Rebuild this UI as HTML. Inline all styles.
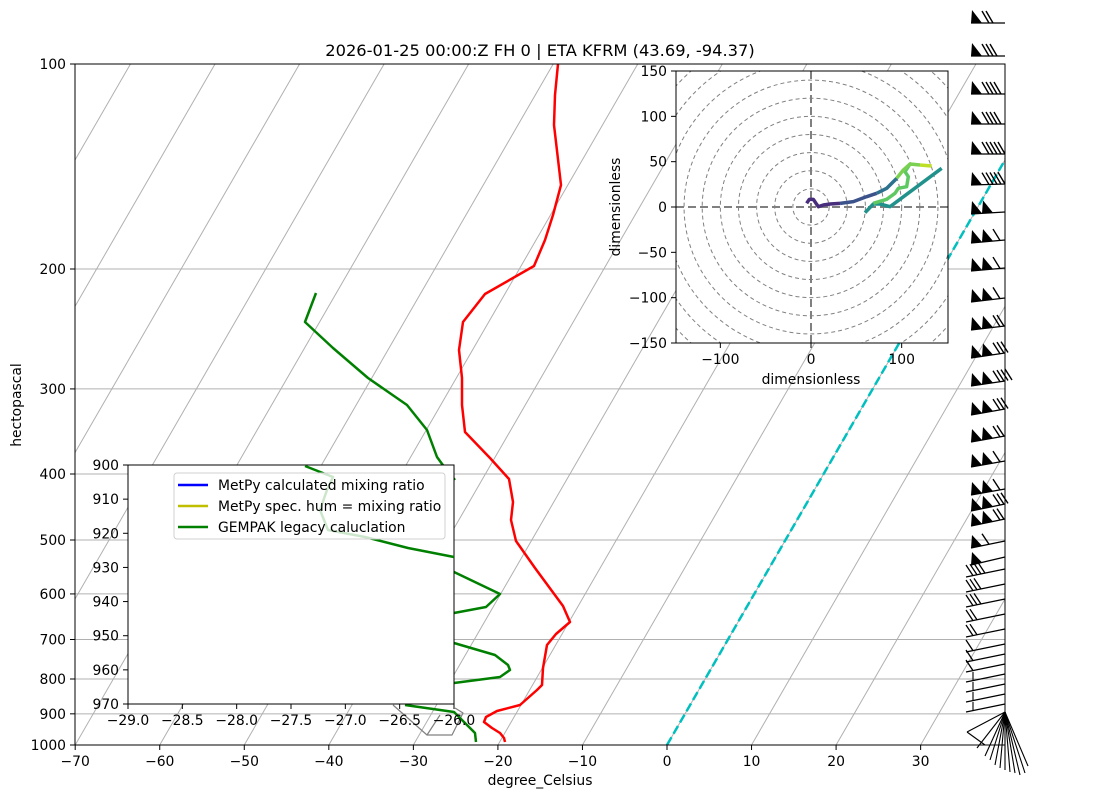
<!DOCTYPE html>
<html><head><meta charset="utf-8"><style>
body{margin:0;background:#fff}
svg{display:block;font-family:"DejaVu Sans","Liberation Sans",sans-serif}
</style></head><body>
<svg id="s" width="1107" height="809" viewBox="0 0 1107 809" xmlns="http://www.w3.org/2000/svg">
<defs>
<clipPath id="main"><rect x="75" y="64" width="930" height="681"/></clipPath>
<clipPath id="hodo"><rect x="676" y="71" width="272" height="272"/></clipPath>
</defs>
<g id="grid" clip-path="url(#main)"></g>
<g id="fg"></g>
</svg>
<script>
const NS="http://www.w3.org/2000/svg";
const s=document.getElementById('s'),grid=document.getElementById('grid'),fg=document.getElementById('fg');
function el(p,tag,a,txt){const e=document.createElementNS(NS,tag);for(const k in a)e.setAttribute(k,a[k]);if(txt!==undefined)e.textContent=txt;p.appendChild(e);return e;}
function X(t){return 667+8.4545*t;}
function Y(p){return 64+(Math.log10(p)-2)*681;}
const sk=0.5778;
for(let t=-160;t<=40;t+=10){el(grid,'line',{x1:X(t),y1:745,x2:X(t)+sk*681,y2:64,stroke:'#b0b0b0','stroke-width':1});}
[200,300,400,500,600,700,800,900].forEach(p=>el(grid,'line',{x1:75,x2:1005,y1:Y(p),y2:Y(p),stroke:'#b0b0b0','stroke-width':1}));
el(grid,'line',{x1:667,y1:745,x2:667+sk*681,y2:64,stroke:'#00bfbf','stroke-width':2.5,'stroke-dasharray':'9,4'});
const red=[[558,64],[555,95],[554,125],[561,185],[553,215],[545,240],[534,266],[485,294],[463,322],[459,350],[462,378],[462,405],[465,432],[490,458],[509,479],[513,502],[511,520],[516,541],[535,568],[563,606],[570,622],[556,634],[547,645],[543,668],[542,685],[537,690],[520,705],[497,711],[486,717],[484,722],[492,728],[500,733],[504,738],[505,742]];
function pl(p,pts,c,w,extra){const a={points:pts.map(q=>q.join(',')).join(' '),fill:'none',stroke:c,'stroke-width':w,'stroke-linejoin':'round'};Object.assign(a,extra||{});return el(p,'polyline',a);}
pl(grid,red,'#ff0000',2.5);
pl(grid,[[393,705],[427,735],[452,735],[463,713],[455,708]],'#808080',1.2);
pl(grid,[[427,735],[440,715]],'#808080',1.2);
pl(grid,[[316,293],[305,322],[333,348],[368,378],[407,405],[427,430],[437,457],[445,468],[455,480]],'#008000',2.5);
pl(grid,[[454,572],[500,594],[486,607],[454,613]],'#008000',2.5);
pl(grid,[[454,643],[495,655],[508,665],[510,670],[500,677],[454,683]],'#008000',2.5);
pl(grid,[[405,705],[454,712],[462,720],[475,733],[476,742]],'#008000',2.5);
el(fg,'rect',{x:75,y:64,width:930,height:681,fill:'none',stroke:'#000','stroke-width':1});
function txt(p,x,y,t,o){const a={x:x,y:y,'font-size':13.9,fill:'#000'};Object.assign(a,o||{});return el(p,'text',a,t);}
for(let t=-70;t<=30;t+=10){el(fg,'line',{x1:X(t),x2:X(t),y1:745,y2:750,stroke:'#000'});txt(fg,X(t),766,(t<0?'\u2212'+(-t):''+t),{'text-anchor':'middle'});}
[100,200,300,400,500,600,700,800,900,1000].forEach(p=>{el(fg,'line',{x1:70,x2:75,y1:Y(p),y2:Y(p),stroke:'#000'});txt(fg,66,Y(p)+5,''+p,{'text-anchor':'end'});});
txt(fg,540,56,'2026-01-25 00:00:Z FH 0 | ETA KFRM (43.69, -94.37)',{'text-anchor':'middle','font-size':16.3});
txt(fg,540,785,'degree_Celsius',{'text-anchor':'middle'});
txt(fg,21,405,'hectopascal',{'text-anchor':'middle',transform:'rotate(-90 21 405)'});
el(fg,'rect',{x:128,y:465,width:326,height:239,fill:'#fff',stroke:'#000','stroke-width':1});
pl(fg,[[305,466],[333,477],[327,490],[320,510],[328,530],[365,537],[408,548],[454,557]],'#008000',2.5);
for(let i=0;i<=6;i++){const x=128+i*326/6,v=-29+i*0.5;el(fg,'line',{x1:x,x2:x,y1:704,y2:709,stroke:'#000'});txt(fg,x,725,'\u2212'+(-v).toFixed(1),{'text-anchor':'middle'});}
for(let i=0;i<=7;i++){const y=465+i*239/7;el(fg,'line',{x1:123,x2:128,y1:y,y2:y,stroke:'#000'});txt(fg,119,y+5,''+(900+i*10),{'text-anchor':'end'});}
el(fg,'rect',{x:174,y:473,width:271,height:66,rx:3,fill:'rgba(255,255,255,0.8)',stroke:'#d0d0d0'});
[['#0000ff','MetPy calculated mixing ratio',485],['#bfbf00','MetPy spec. hum = mixing ratio',506],['#008000','GEMPAK legacy caluclation',527]].forEach(r=>{el(fg,'line',{x1:178,x2:208,y1:r[2],y2:r[2],stroke:r[0],'stroke-width':2.5});txt(fg,218,r[2]+5,r[1]);});
const hg=el(fg,'g',{});
el(hg,'rect',{x:676,y:71,width:272,height:272,fill:'#fff'});
const hc=el(hg,'g',{'clip-path':'url(#hodo)'});
const cx=811,cy=207,sc=136/150;
for(let r=20;r<=200;r+=20)el(hc,'circle',{cx:cx,cy:cy,r:r*sc,fill:'none',stroke:'#808080','stroke-width':1,'stroke-dasharray':'4,3'});
el(hc,'line',{x1:676,x2:948,y1:cy,y2:cy,stroke:'#808080','stroke-width':2,'stroke-dasharray':'8,4'});
el(hc,'line',{x1:cx,x2:cx,y1:71,y2:343,stroke:'#808080','stroke-width':2,'stroke-dasharray':'8,4'});
function z(a){return a.map(q=>[600+q[0]/3,60+q[1]/3]);}
pl(hc,z([[620,430],[628,418],[640,418],[648,430],[655,440],[670,435],[690,432],[720,430]]),'#472d7b',3.5);
pl(hc,z([[720,430],[760,425],[800,410],[830,400]]),'#3b528b',3.5);
pl(hc,z([[830,400],[860,385],[890,355]]),'#2c728e',3.5);
pl(hc,z([[1025,325],[870,440],[840,432],[820,432],[795,458]]),'#21918c',3.5);
pl(hc,z([[820,430],[860,418],[885,400],[895,385],[920,380],[925,350],[915,335],[930,312]]),'#5ec962',3.5);
pl(hc,z([[890,355],[910,330],[930,312],[960,315]]),'#7ad151',3.5);
pl(hc,z([[960,315],[995,318]]),'#bddf26',3.5);
el(hg,'rect',{x:676,y:71,width:272,height:272,fill:'none',stroke:'#000'});
[-100,0,100].forEach(v=>{const x=cx+v*sc;el(hg,'line',{x1:x,x2:x,y1:343,y2:348,stroke:'#000'});txt(hg,x,364,(v<0?'\u2212100':''+v),{'text-anchor':'middle'});});
[150,100,50,0,-50,-100,-150].forEach(v=>{const y=cy-v*sc;el(hg,'line',{x1:671,x2:676,y1:y,y2:y,stroke:'#000'});txt(hg,667,y+5,(v<0?'\u2212'+(-v):''+v),{'text-anchor':'end'});});
txt(hg,811,384,'dimensionless',{'text-anchor':'middle'});
txt(hg,620,207,'dimensionless',{'text-anchor':'middle',transform:'rotate(-90 620 207)'});
const rows=[[23,1,2,0],[56,1,3,0],[94,1,4,0],[124,1,4,0],[154,1,5,0],[184,1,5,1],[212,2,0,2],[240,2,1,3],[268,2,1,3],[298,2,1,4],[326,2,2,4],[353,2,3,5],[381,2,4,5],[409,2,3,6],[436,2,2,6],[461,2,1,6],[489,2,1,6],[504,2,3,7],[519,2,2,7],[541,1,1,7],[557,1,0,8]];
rows.forEach(r=>{
 const y=r[0],np=r[1],nb=r[2],dy=r[3];
 const x0=1005,x1=971;
 const yl=y+dy;
 el(fg,'line',{x1:x0,y1:y,x2:x1,y2:yl,stroke:'#000','stroke-width':1.3});
 const yy=x=>yl-(x-x1)*dy/(x0-x1);
 for(let k=0;k<np;k++){const bx=x1+k*11;el(fg,'polygon',{points:`${bx},${yy(bx)} ${bx+11},${yy(bx+11)} ${bx+1},${yy(bx)-13}`,fill:'#000'});}
 for(let k=0;k<nb;k++){const bx=x1+np*11+k*4;el(fg,'line',{x1:bx+7,y1:yy(bx+7),x2:bx,y2:yy(bx)-12,stroke:'#000','stroke-width':1.4});}
});
const low=[[569,4],[584,3],[599,3],[614,2],[629,2],[644,1],[654,1],[664,1],[674,0],[684,0],[694,0],[704,0]];
low.forEach(r=>{const y=r[0],x1=966,yl=y+8;el(fg,'line',{x1:1005,y1:y,x2:x1,y2:yl,stroke:'#000','stroke-width':1.2});
 for(let k=0;k<r[1];k++){const bx=x1+k*4;const by=yl-(bx-x1)*8/39;el(fg,'line',{x1:bx+7,y1:by-1.4,x2:bx,y2:by-12,stroke:'#000','stroke-width':1.3});}
 if(r[1]==0){el(fg,'line',{x1:973,y1:yl-1,x2:973,y2:yl-10,stroke:'#000','stroke-width':1.1});}});
const fan=[[967,732],[977,748],[985,756],[990,760],[995,765],[1000,768],[1005,770],[1010,772],[1015,773],[1020,775],[1025,773],[1028,766]];
fan.forEach(p=>el(fg,'line',{x1:1005,y1:712,x2:p[0],y2:p[1],stroke:'#000','stroke-width':1.1}));
el(fg,'line',{x1:967,y1:732,x2:985,y2:745,stroke:'#000','stroke-width':1.1});
</script>
</body></html>
